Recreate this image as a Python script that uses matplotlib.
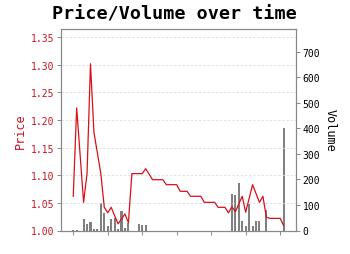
import matplotlib
matplotlib.use("Agg")
import matplotlib.pyplot as plt

# Price observations (time index, price)
price_t = [0, 1, 3, 4, 5, 6, 8, 9, 10, 11, 13, 15, 16, 17, 20, 21, 23, 26, 27, 30,
           31, 33, 34, 37, 38, 41, 42, 44, 45, 46, 47, 49, 50, 52, 54, 55, 56, 57, 60, 61]
price = [1.062, 1.222, 1.051, 1.103, 1.302, 1.178, 1.103, 1.042, 1.032, 1.042,
         1.012, 1.030, 1.014, 1.103, 1.103, 1.112, 1.092, 1.092, 1.083, 1.083,
         1.071, 1.071, 1.062, 1.062, 1.051, 1.051, 1.042, 1.042, 1.032, 1.043,
         1.034, 1.062, 1.033, 1.083, 1.051, 1.062, 1.024, 1.022, 1.022, 1.009]

# Volume observations (time index, volume)
vol_t = [0, 1, 3, 4, 5, 6, 7, 8, 9, 10, 11, 12, 13, 14, 15, 16, 19, 20, 21,
         46, 47, 48, 49, 50, 51, 52, 53, 54, 56, 61]
volume = [3, 3, 45, 27, 33, 7, 7, 107, 67, 18, 46, 49, 5, 77, 10, 28, 25, 22, 20,
          142, 140, 186, 37, 17, 104, 19, 37, 37, 80, 400]

x_ticks = [0, 10, 20, 30, 40, 50, 60]
price_ticks = [1.00, 1.05, 1.10, 1.15, 1.20, 1.25, 1.30, 1.35]
volume_ticks = [0, 100, 200, 300, 400, 500, 600, 700]

RED = "#d8101a"
TICKRED = "#cc1020"
SPINE = "#888888"
MONO = "DejaVu Sans Mono"

fig = plt.figure(figsize=(3.5, 2.55), dpi=100)
ax1 = fig.add_axes([61/350, 23.5/255, (295.5-61)/350, (231.5-30)/255])
ax2 = ax1.twinx()

ax2.bar(vol_t, volume, width=0.6, color="#808080", zorder=2)
ax1.plot(price_t, price, color=RED, linewidth=0.9, zorder=3)

ax1.set_zorder(ax2.get_zorder() + 1)
ax1.patch.set_visible(False)

ax1.set_xlim(-3.55, 64.45)
ax1.set_ylim(1.0, 1.365)
ax2.set_ylim(0, 790)

ax1.set_xticks(x_ticks)
ax1.set_xticklabels([])
ax1.set_yticks(price_ticks)
ax1.set_yticklabels([f"{v:.2f}" for v in price_ticks], family=MONO, fontsize=7, color=TICKRED)
ax2.set_yticks(volume_ticks)
ax2.set_yticklabels([str(v) for v in volume_ticks], family=MONO, fontsize=7, color="black")

ax1.yaxis.grid(True, linestyle=(0, (3, 2)), color="#dddddd", linewidth=0.6)
ax1.xaxis.grid(False)

for ax in (ax1, ax2):
    for s in ax.spines.values():
        s.set_color(SPINE)
        s.set_linewidth(0.8)
    ax.tick_params(color=SPINE, length=3, width=0.7, pad=2)

ax1.set_ylabel("Price", family=MONO, fontsize=8.5, color=TICKRED, labelpad=3)
ax2.set_ylabel("Volume", family=MONO, fontsize=8.5, color="black", rotation=270, labelpad=12)

fig.text(0.498, 0.945, "Price/Volume over time", family=MONO, fontweight="bold",
         fontsize=13.2, ha="center", va="center")

fig.savefig("out.png", dpi=100)
